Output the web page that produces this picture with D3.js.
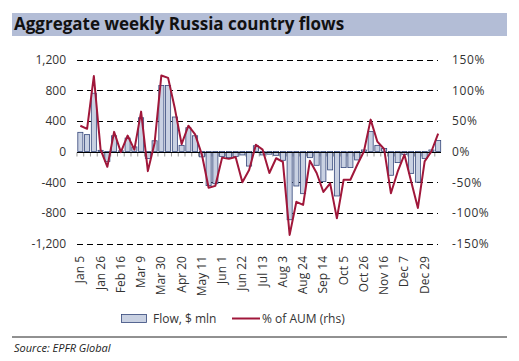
<!DOCTYPE html>
<html>
<head>
<meta charset="utf-8">
<script src="https://cdn.jsdelivr.net/npm/d3@7"></script>
<style>
  body { margin: 0; background: #fff; }
  svg { font-family: "Open Sans", "Noto Sans", sans-serif; }
</style>
</head>
<body>
<svg class="chart" width="519" height="361"></svg>
<script>
(function () {
    'use strict';

    // weekly categories (tick label every 3rd week)
    var weeks = ['Jan 5', 'Jan 12', 'Jan 19', 'Jan 26', 'Feb 2', 'Feb 9', 'Feb 16', 'Feb 23',
        'Mar 2', 'Mar 9', 'Mar 16', 'Mar 23', 'Mar 30', 'Apr 6', 'Apr 13', 'Apr 20', 'Apr 27',
        'May 4', 'May 11', 'May 18', 'May 25', 'Jun 1', 'Jun 8', 'Jun 15', 'Jun 22', 'Jun 29',
        'Jul 6', 'Jul 13', 'Jul 20', 'Jul 27', 'Aug 3', 'Aug 10', 'Aug 17', 'Aug 24', 'Aug 31',
        'Sep 7', 'Sep 14', 'Sep 21', 'Sep 28', 'Oct 5', 'Oct 12', 'Oct 19', 'Oct 26', 'Nov 2',
        'Nov 9', 'Nov 16', 'Nov 23', 'Nov 30', 'Dec 7', 'Dec 14', 'Dec 21', 'Dec 29', 'Jan 4', 'Jan 11'];

    // Flow, $ mln
    var flows = [250, 220, 760, 15, -130, 205, 8, 175, 60, 440, -90, 140, 860,
        860, 450, 80, 310, 205, -70, -445, -420, -65, -80, -65, -45, -190,
        75, -45, -35, -50, -115, -890, -450, -550, -80, -180, -390, -240, -580,
        -210, -210, -110, 20, 260, 80, 40, -310, -145, -40, -285, -400, -90, 20, 143];

    // % of AUM (rhs)
    var aum = [42, 37, 123, 3, -25, 32, -1, 26, 3, 65, -32, 14, 124,
        120, 70, 12, 42, 28, -5, -59, -56, -10, -12, -9, -50, -30,
        11, 3, -35, -11, -17, -136, -82, -87, -15, -35, -66, -52, -109,
        -46, -46, -22, 0, 52, 16, 4, -68, -33, -5, -49, -92, -16, 0, 29];

    var leftTicks = [1200, 800, 400, 0, -400, -800, -1200];
    var rightTicks = [150, 100, 50, 0, -50, -100, -150];

    var svg = d3.select('.chart');
    var top = 59.5, bottom = 243.5, left = 77, right = 441.5;

    // title band
    svg.append('rect')
        .attr('x', 12).attr('y', 13)
        .attr('width', 495).attr('height', 23)
        .attr('fill', '#b3bdd6');
    svg.append('text')
        .attr('x', 14).attr('y', 30)
        .attr('font-size', 17)
        .attr('font-weight', 'bold')
        .attr('fill', '#111')
        .text('Aggregate weekly Russia country flows');

    var x = d3.scaleBand().domain(weeks).range([left, right]).paddingInner(0.25).paddingOuter(0.12);
    var y = d3.scaleLinear().domain([-1200, 1200]).range([bottom, top]);
    var y2 = d3.scaleLinear().domain([-150, 150]).range([bottom, top]);

    // dashed gridlines
    svg.append('g').selectAll('line')
        .data(leftTicks.filter(function (d) { return d !== 0; }))
        .enter().append('line')
        .attr('x1', left).attr('x2', 438)
        .attr('y1', function (d) { return Math.round(y(d)) + 0.5; })
        .attr('y2', function (d) { return Math.round(y(d)) + 0.5; })
        .attr('stroke', '#000')
        .attr('stroke-width', 1)
        .attr('stroke-dasharray', '6,4');

    // left axis
    var yAxis = svg.append('g')
        .attr('transform', 'translate(66,0)')
        .call(d3.axisLeft(y).tickValues(leftTicks).tickSize(0).tickPadding(0)
            .tickFormat(function (d) { return d3.format(',')(d).replace('−', '-'); }));
    yAxis.select('.domain').remove();
    yAxis.selectAll('text').attr('font-size', 12).attr('fill', '#333')
        .attr('font-family', '"Open Sans", sans-serif');

    // right axis
    var yAxis2 = svg.append('g')
        .attr('transform', 'translate(452,0)')
        .call(d3.axisRight(y2).tickValues(rightTicks).tickSize(0).tickPadding(0)
            .tickFormat(function (d) { return d + '%'; }));
    yAxis2.select('.domain').remove();
    yAxis2.selectAll('text').attr('font-size', 12).attr('fill', '#333')
        .attr('letter-spacing', '0.6px')
        .attr('font-family', '"Open Sans", sans-serif');

    // small category ticks under the zero line
    var zero = Math.round(y(0)) + 0.5;
    svg.append('g').selectAll('line')
        .data(weeks)
        .enter().append('line')
        .attr('x1', function (d) { return x(d) - x.step() * x.paddingInner() / 2; })
        .attr('x2', function (d) { return x(d) - x.step() * x.paddingInner() / 2; })
        .attr('y1', zero).attr('y2', zero + 4)
        .attr('stroke', '#999');

    // bars
    svg.append('g').selectAll('rect')
        .data(flows)
        .enter().append('rect')
        .attr('x', function (d, i) { return x(weeks[i]); })
        .attr('width', x.bandwidth())
        .attr('y', function (d) { return y(Math.max(0, d)); })
        .attr('height', function (d) { return Math.abs(y(d) - y(0)); })
        .attr('fill', '#c9d1e2')
        .attr('stroke', '#34467a')
        .attr('stroke-width', 0.8);

    // zero line
    svg.append('line')
        .attr('x1', left).attr('x2', 441)
        .attr('y1', zero).attr('y2', zero)
        .attr('stroke', '#000').attr('stroke-width', 1.2);

    // % of AUM line
    var line = d3.line()
        .x(function (d, i) { return x(weeks[i]) + x.bandwidth() / 2; })
        .y(function (d) { return y2(d); });
    svg.append('path')
        .datum(aum)
        .attr('d', line)
        .attr('fill', 'none')
        .attr('stroke', '#a0173a')
        .attr('stroke-width', 2)
        .attr('stroke-linejoin', 'round');

    // x labels, every third week
    svg.append('g').selectAll('text')
        .data(weeks.filter(function (d, i) { return i % 3 === 0 && i < 52; }))
        .enter().append('text')
        .attr('transform', function (d) {
            return 'translate(' + (x(d) + x.bandwidth() / 2 + 4) + ',256) rotate(-90)';
        })
        .attr('text-anchor', 'end')
        .attr('font-size', 12)
        .attr('fill', '#333')
        .text(function (d) { return d; });

    // legend
    var lg = svg.append('g');
    lg.append('rect')
        .attr('x', 121.5).attr('y', 314.5)
        .attr('width', 25).attr('height', 8)
        .attr('fill', '#c9d1e2').attr('stroke', '#34467a').attr('stroke-width', 0.8);
    lg.append('text')
        .attr('x', 153).attr('y', 323)
        .attr('font-size', 12).attr('fill', '#333')
        .text('Flow, $ mln');
    lg.append('line')
        .attr('x1', 232).attr('x2', 260)
        .attr('y1', 318.5).attr('y2', 318.5)
        .attr('stroke', '#a0173a').attr('stroke-width', 2);
    lg.append('text')
        .attr('x', 262).attr('y', 323)
        .attr('font-size', 12).attr('fill', '#333')
        .text('% of AUM (rhs)');

    // source
    svg.append('line')
        .attr('x1', 12).attr('x2', 507)
        .attr('y1', 337).attr('y2', 337)
        .attr('stroke', '#222').attr('stroke-width', 1);
    svg.append('text')
        .attr('x', 14).attr('y', 352)
        .attr('font-size', 11)
        .attr('font-style', 'italic')
        .attr('fill', '#222')
        .text('Source: EPFR Global');
})();
</script>
</body>
</html>
